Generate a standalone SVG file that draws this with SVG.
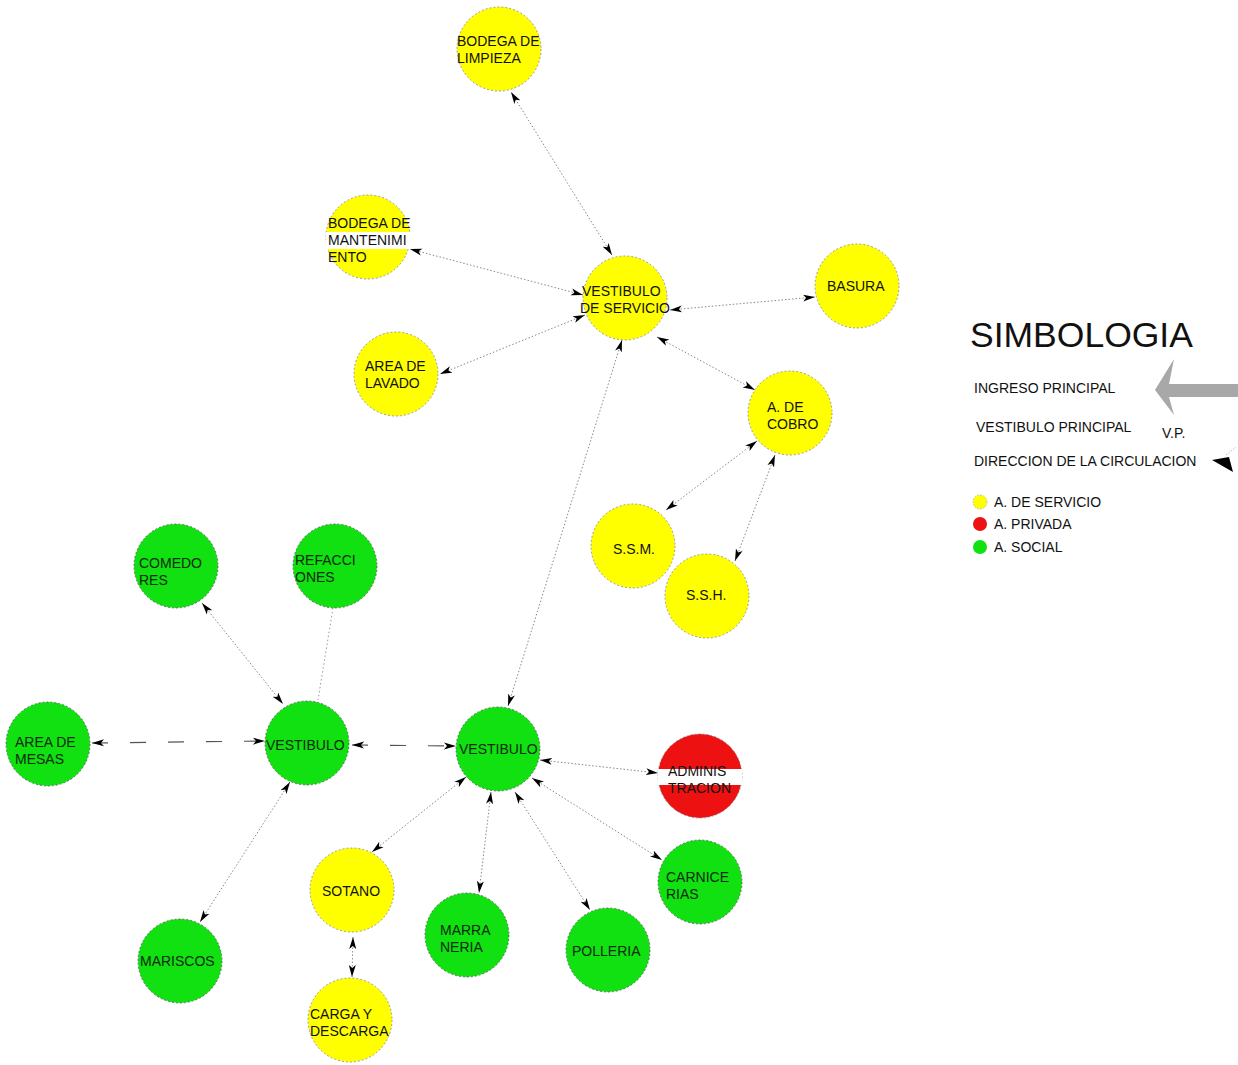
<svg xmlns="http://www.w3.org/2000/svg" width="1238" height="1065" viewBox="0 0 1238 1065">
<style>
text{font-family:"Liberation Sans",Arial,sans-serif;font-size:14px;fill:#111}
.y{fill:#ffff00;stroke:#777;stroke-width:0.7;stroke-dasharray:2 2}
.g{fill:#11e011;stroke:#444;stroke-width:0.7;stroke-dasharray:2 2}
.r{fill:#ee1111;stroke:#777;stroke-width:0.7;stroke-dasharray:2 2}
.g text,.gt{fill:#0d2a0d}
.c{stroke:#888;stroke-width:1;stroke-dasharray:1.5 2;fill:none;marker-start:url(#ah);marker-end:url(#ah)}
.d{stroke:#555;stroke-width:1.2;stroke-dasharray:16 22;fill:none;marker-start:url(#ah);marker-end:url(#ah)}
.p{stroke:#999;stroke-width:1;stroke-dasharray:1.5 2.5;fill:none}
.lg{font-size:14px}
</style>
<defs>
<marker id="ah" viewBox="0 0 12 8" refX="12" refY="4" markerWidth="12" markerHeight="8" markerUnits="userSpaceOnUse" orient="auto-start-reverse">
<path d="M0,0.5 L12,4 L0,7.5 L3,4 Z" fill="#000"/>
</marker>
</defs>
<rect width="1238" height="1065" fill="#fff"/>
<g id="connectors">
<line class="c" x1="612" y1="255" x2="511" y2="92"/>
<line class="c" x1="583" y1="295" x2="410" y2="249"/>
<line class="c" x1="585" y1="315" x2="440" y2="374"/>
<line class="c" x1="670" y1="310" x2="815" y2="297"/>
<line class="c" x1="657" y1="337" x2="755" y2="390"/>
<line class="c" x1="757" y1="441" x2="666" y2="510"/>
<line class="c" x1="775" y1="455" x2="735" y2="561"/>
<line class="c" x1="622" y1="340" x2="508" y2="706"/>
<line class="c" x1="202" y1="603" x2="283" y2="704"/>
<line class="p" x1="333" y1="608" x2="318" y2="700"/>
<line class="d" x1="92" y1="743" x2="265" y2="741"/>
<line class="d" x1="352" y1="745" x2="456" y2="746"/>
<line class="c" x1="290" y1="782" x2="200" y2="922"/>
<line class="c" x1="540" y1="760" x2="658" y2="773"/>
<line class="c" x1="532" y1="778" x2="662" y2="860"/>
<line class="c" x1="515" y1="792" x2="590" y2="910"/>
<line class="c" x1="491" y1="792" x2="479" y2="893"/>
<line class="c" x1="466" y1="777" x2="372" y2="852"/>
<line class="c" x1="353" y1="937" x2="352" y2="977"/>
</g>
<g id="n-bodega-limpieza" class="y"><circle cx="499" cy="49" r="42"/><text x="457" y="46" stroke="none">BODEGA DE</text><text x="457" y="63" stroke="none">LIMPIEZA</text></g>
<g id="n-bodega-mant" class="y"><circle cx="368" cy="237" r="42"/><rect x="326" y="232" width="87" height="17" fill="#fff" stroke="none"/><text x="328" y="228" stroke="none">BODEGA DE</text><text x="328" y="245" stroke="none">MANTENIMI</text><text x="328" y="262" stroke="none">ENTO</text></g>
<g id="n-vest-servicio" class="y"><circle cx="625" cy="298" r="42"/><text x="582" y="296" stroke="none">VESTIBULO</text><text x="580" y="313" stroke="none">DE SERVICIO</text></g>
<g id="n-basura" class="y"><circle cx="857" cy="286" r="42"/><text x="827" y="291" stroke="none">BASURA</text></g>
<g id="n-lavado" class="y"><circle cx="396" cy="374" r="42"/><text x="365" y="371" stroke="none">AREA DE</text><text x="365" y="388" stroke="none">LAVADO</text></g>
<g id="n-cobro" class="y"><circle cx="790" cy="413" r="42"/><text x="767" y="412" stroke="none">A. DE</text><text x="767" y="429" stroke="none">COBRO</text></g>
<g id="n-ssm" class="y"><circle cx="633" cy="546" r="42"/><text x="613" y="554" stroke="none">S.S.M.</text></g>
<g id="n-ssh" class="y"><circle cx="707" cy="596" r="42"/><text x="686" y="600" stroke="none">S.S.H.</text></g>
<g id="n-comedores" class="g"><circle cx="176" cy="566" r="42"/><text x="139" y="568" stroke="none">COMEDO</text><text x="139" y="585" stroke="none">RES</text></g>
<g id="n-refacciones" class="g"><circle cx="335" cy="566" r="42"/><text x="295" y="565" stroke="none">REFACCI</text><text x="295" y="582" stroke="none">ONES</text></g>
<g id="n-vest-left" class="g"><circle cx="307" cy="743" r="42"/><text x="266" y="750" stroke="none">VESTIBULO</text></g>
<g id="n-mesas" class="g"><circle cx="48" cy="744" r="42"/><text x="15" y="747" stroke="none">AREA DE</text><text x="15" y="764" stroke="none">MESAS</text></g>
<g id="n-vest-center" class="g"><circle cx="498" cy="749" r="42"/><text x="459" y="754" stroke="none">VESTIBULO</text></g>
<g id="n-admin" class="r"><circle cx="700" cy="776" r="42"/><rect x="658" y="769" width="84" height="16" fill="#fff" stroke="none"/><text x="668" y="776" stroke="none">ADMINIS</text><text x="668" y="793" stroke="none">TRACION</text></g>
<g id="n-carnicerias" class="g"><circle cx="700" cy="882" r="42"/><text x="666" y="882" stroke="none">CARNICE</text><text x="666" y="899" stroke="none">RIAS</text></g>
<g id="n-sotano" class="y"><circle cx="352" cy="890" r="42"/><text x="322" y="896" stroke="none">SOTANO</text></g>
<g id="n-marraneria" class="g"><circle cx="467" cy="935" r="42"/><text x="440" y="935" stroke="none">MARRA</text><text x="440" y="952" stroke="none">NERIA</text></g>
<g id="n-polleria" class="g"><circle cx="608" cy="950" r="42"/><text x="572" y="956" stroke="none">POLLERIA</text></g>
<g id="n-mariscos" class="g"><circle cx="180" cy="961" r="42"/><text x="140" y="966" stroke="none">MARISCOS</text></g>
<g id="n-carga" class="y"><circle cx="350" cy="1020" r="42"/><text x="310" y="1019" stroke="none">CARGA Y</text><text x="310" y="1036" stroke="none">DESCARGA</text></g>
<g id="legend">
<text x="970" y="347" style="font-size:35.5px">SIMBOLOGIA</text>
<text class="lg" x="974" y="393">INGRESO PRINCIPAL</text>
<path d="M1155,390 L1174,359 L1169,384 L1238,384 L1238,397 L1169,397 L1174,415 Z" fill="#a8a8a8"/>
<text class="lg" x="976" y="432">VESTIBULO PRINCIPAL</text>
<text class="lg" x="1162" y="438">V.P.</text>
<text class="lg" x="974" y="466">DIRECCION DE LA CIRCULACION</text>
<line x1="1226" y1="455" x2="1236" y2="447" stroke="#aaa" stroke-width="0.8" stroke-dasharray="1.5 1.5"/>
<path d="M1212,460 L1229,457 L1233,472 Z" fill="#000"/>
<circle cx="980" cy="502" r="7" fill="#ffff00" stroke="#999" stroke-width="0.6" stroke-dasharray="1.5 1.5"/>
<circle cx="980" cy="524" r="7" fill="#ee1111"/>
<circle cx="980" cy="547" r="7" fill="#11e011"/>
<text class="lg" x="994" y="507">A. DE SERVICIO</text>
<text class="lg" x="994" y="529">A. PRIVADA</text>
<text class="lg" x="994" y="552">A. SOCIAL</text>
</g>
</svg>
